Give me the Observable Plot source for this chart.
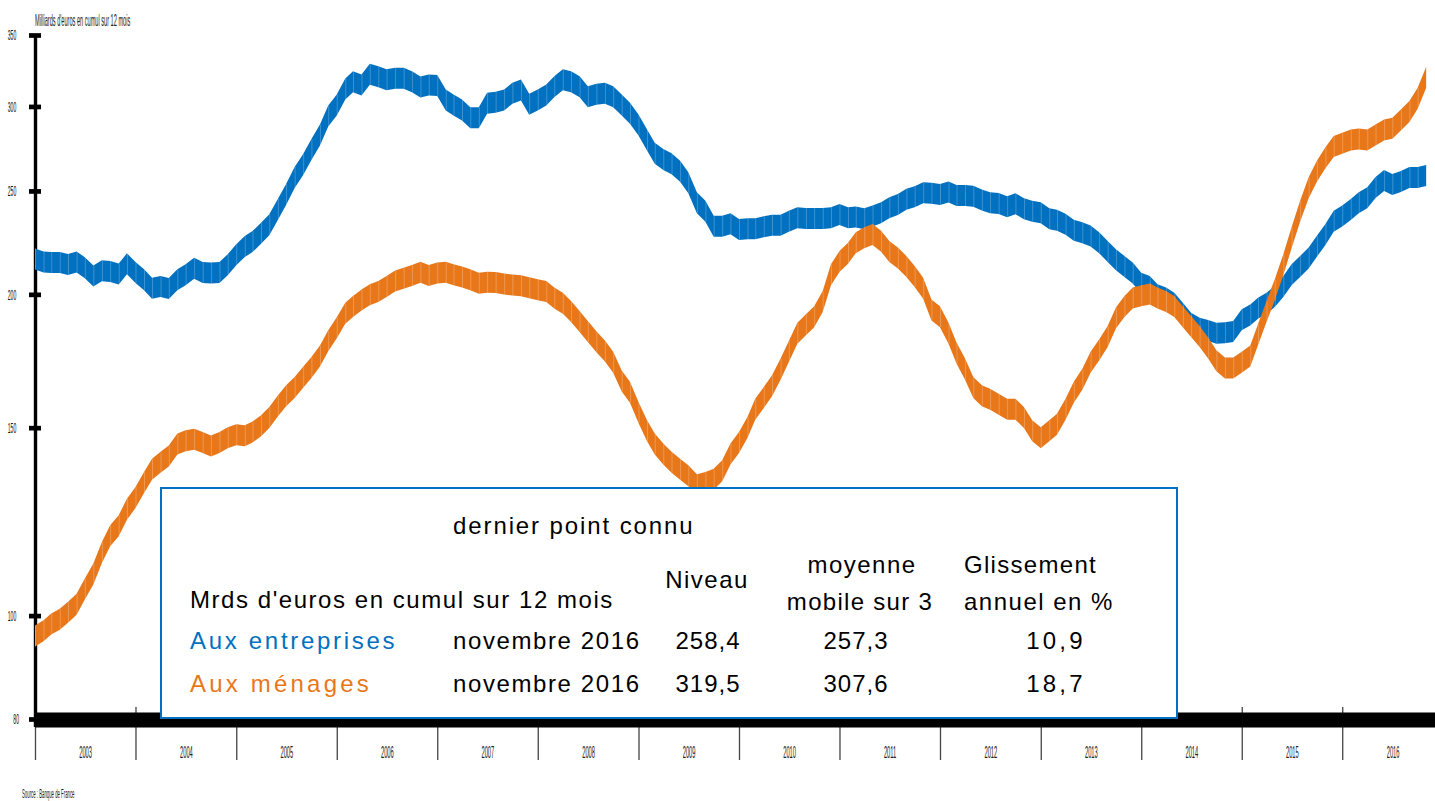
<!DOCTYPE html>
<html>
<head>
<meta charset="utf-8">
<script src="https://cdn.jsdelivr.net/npm/d3@7"></script>
<script src="https://cdn.jsdelivr.net/npm/@observablehq/plot@0.6"></script>
<style>
html, body { margin: 0; padding: 0; background: #fff; }
#wrap { position: relative; width: 1435px; height: 801px; overflow: hidden; font-family: "Liberation Sans", Arial, sans-serif; }
#chart svg { display: block; }
.cond { position: absolute; white-space: nowrap; transform-origin: 0 50%; transform: scaleX(0.33); color: #222; line-height: 1; }
#box { position: absolute; left: 160px; top: 487px; width: 1018px; height: 232px; box-sizing: border-box; border: 2px solid #0070C0; background: #fff; }
.t { position: absolute; white-space: nowrap; font-size: 24px; line-height: 24px; color: #000; }
.c { transform: translateX(-50%); text-align: center; }
</style>
</head>
<body>
<div id="wrap">
  <div id="chart"></div>
</div>
<script>
// ---------- DATA ----------
const startYear = 2003;
const yearLabels = ["2003","2004","2005","2006","2007","2008","2009","2010","2011","2012","2013","2014","2015","2016"];
const yTicks = [80, 100, 150, 200, 250, 300, 350];
const unitTitle = "Milliards d'euros en cumul sur 12 mois";
const sourceText = "Source : Banque de France";

// Crédits aux entreprises (monthly, Jan 2003 – Nov 2016)
const entreprises = [
  215.9, 214.5, 214.2, 214.2, 213.3, 214.5, 211.8, 208.1, 210.5, 210.1, 209.0, 213.6,
  209.6, 206.4, 202.7, 203.4, 202.5, 206.4, 208.6, 211.6, 209.6, 209.4, 209.6, 213.2,
  217.8, 221.7, 224.1, 228.2, 232.4, 240.2, 248.1, 257.4, 264.7, 273.4, 282.1, 293.9,
  301.0, 311.5, 316.5, 314.2, 321.6, 319.9, 317.7, 318.8, 318.8, 316.5, 312.9, 314.2,
  313.8, 304.2, 301.0, 297.7, 292.8, 292.8, 302.1, 302.7, 304.2, 308.7, 310.9, 301.4,
  304.2, 307.5, 313.1, 317.7, 316.5, 313.1, 306.4, 308.0, 308.7, 306.4, 301.0, 295.6,
  288.3, 279.1, 271.2, 267.6, 265.1, 260.9, 254.5, 243.7, 239.3, 231.7, 231.7, 232.9,
  230.1, 230.4, 230.4, 231.4, 232.1, 232.2, 234.2, 236.0, 235.6, 235.6, 235.6, 236.0,
  237.6, 236.0, 236.3, 235.4, 236.8, 238.5, 241.1, 242.8, 245.5, 246.9, 249.0, 248.7,
  248.1, 249.4, 247.6, 247.6, 247.2, 245.1, 243.7, 243.3, 241.6, 243.2, 240.6, 239.3,
  238.5, 235.4, 234.7, 232.6, 229.7, 228.4, 226.8, 223.6, 219.4, 215.5, 212.4, 209.4,
  204.9, 203.4, 199.8, 198.4, 196.2, 192.0, 187.9, 185.9, 185.0, 183.9, 184.1, 184.6,
  189.3, 191.3, 194.1, 196.2, 199.1, 203.4, 208.6, 212.4, 216.3, 221.9, 227.6, 234.2,
  236.8, 240.2, 243.7, 246.4, 251.9, 255.7, 253.5, 255.2, 257.4, 257.4, 258.4
];
// Crédits aux ménages (monthly, Jan 2003 – Nov 2016)
const menages = [
  95.7, 96.8, 98.2, 99.2, 100.7, 102.5, 105.9, 109.4, 114.6, 118.8, 121.4, 125.8,
  129.0, 133.3, 137.1, 139.2, 141.1, 144.8, 145.8, 146.3, 145.3, 144.2, 145.3, 146.8,
  147.7, 147.4, 148.6, 150.6, 153.3, 157.2, 160.7, 163.6, 167.2, 170.8, 175.1, 180.9,
  186.1, 192.0, 194.8, 197.6, 199.8, 201.2, 203.4, 205.9, 207.1, 208.3, 209.8, 208.3,
  209.4, 209.8, 208.6, 207.6, 206.4, 204.9, 205.3, 205.2, 204.5, 204.1, 203.7, 202.9,
  202.0, 201.2, 198.4, 196.2, 192.7, 188.6, 184.6, 180.6, 177.0, 172.7, 165.9, 161.9,
  155.0, 149.0, 144.8, 141.7, 139.2, 137.1, 135.2, 132.6, 133.3, 134.2, 136.7, 141.7,
  145.3, 150.1, 156.1, 160.1, 164.2, 170.2, 176.8, 183.9, 187.3, 190.6, 196.9, 208.6,
  214.7, 218.6, 223.6, 226.0, 227.6, 224.3, 219.4, 216.3, 212.4, 207.8, 202.7, 193.4,
  190.6, 183.9, 176.2, 170.2, 163.6, 160.7, 159.5, 157.8, 156.1, 156.1, 153.3, 149.0,
  146.8, 149.0, 151.1, 156.1, 161.9, 166.5, 172.7, 177.4, 182.6, 190.0, 194.8, 198.4,
  199.4, 200.2, 198.4, 196.9, 194.8, 190.6, 186.6, 182.6, 178.1, 173.3, 170.6, 170.6,
  172.7, 175.1, 183.3, 192.7, 202.0, 213.2, 226.0, 239.3, 251.7, 260.9, 268.6, 275.1,
  277.1, 279.1, 279.7, 279.1, 282.1, 285.2, 286.2, 291.4, 296.7, 305.4, 319.5
];

// Summary table
const tableTitle = "dernier point connu";
const tableUnit = "Mrds d'euros en cumul sur 12 mois";
const tableHead1 = ["Niveau", "moyenne", "Glissement"];
const tableHead2 = ["", "mobile sur 3", "annuel en %"];
const tableSeries = ["Aux entreprises", "Aux ménages"];
const tablePeriod = ["novembre 2016", "novembre 2016"];
const tableLevel = ["258,4", "319,5"];
const tableMA3 = ["257,3", "307,6"];
const tableYoY = ["10,9", "18,7"];

// ---------- STYLE ----------
const BLUE = "#0070C0";
const ORANGE = "#E8771A";
const band = Math.exp(10.5 / 463.4); // half thickness of the ribbon (ratio on log scale)
const squeeze = 0.34;                // horizontal compression of the small axis labels

// ---------- BUILD ----------
const toRows = (vals) => vals.map((v, i) => ({date: new Date(Date.UTC(startYear, i, 1)), v, lo: v / band, hi: v * band}));
const ent = toRows(entreprises);
const men = toRows(menages);
const yearStarts = yearLabels.map(y => new Date(Date.UTC(+y, 0, 1)));
const yearMids = yearLabels.map(y => new Date(Date.UTC(+y, 6, 2)));

const chart = Plot.plot({
  width: 1435,
  height: 801,
  marginLeft: 35,
  marginRight: 0,
  marginTop: 35,
  marginBottom: 82,
  style: {background: "white", fontFamily: "'Liberation Sans', Arial, sans-serif", overflow: "visible"},
  x: {type: "utc", domain: [new Date(Date.UTC(2003, 0, 1)), new Date(Date.UTC(2017, 0, 1))], range: [35, 1443]},
  y: {type: "log", domain: [80, 350], range: [719, 35]},
  marks: [
    // year separators
    Plot.axisX(yearStarts, {tickSize: 53, dy: -12, stroke: "#444", strokeWidth: 1.3, tickFormat: () => "", label: null}),
    // year labels
    Plot.axisX(yearMids, {tickSize: 0, tickPadding: 26, tickFormat: d3.utcFormat("%Y"), fontSize: 17, fill: "#222", label: null}),
    // thick x baseline
    Plot.ruleY([80], {stroke: "black", strokeWidth: 15, dy: 0.5}),
    // y axis line
    Plot.ruleX([new Date(Date.UTC(2003, 0, 1))], {stroke: "black", strokeWidth: 3.4, insetBottom: -8}),
    // y tick marks
    Plot.axisY(yTicks, {tickSize: 12, dx: 6, stroke: "black", strokeWidth: 4.7, tickFormat: () => "", label: null}),
    // y tick labels
    Plot.axisY(yTicks, {tickSize: 0, tickPadding: 11, tickFormat: d => String(d), fontSize: 15, fill: "#111", label: null}),
    // ribbons
    Plot.areaY(ent, {x: "date", y1: "lo", y2: "hi", fill: BLUE}),
    Plot.ruleX(ent, {x: "date", y1: "lo", y2: "hi", stroke: "white", strokeOpacity: 0.3, strokeWidth: 0.8}),
    Plot.areaY(men, {x: "date", y1: "lo", y2: "hi", fill: ORANGE}),
    Plot.ruleX(men, {x: "date", y1: "lo", y2: "hi", stroke: "white", strokeOpacity: 0.3, strokeWidth: 0.8})
  ]
});
document.getElementById("chart").appendChild(chart);

// condensed tick labels: squeeze each label horizontally around its own centre
d3.select(chart).selectAll("g[aria-label$='tick label'] text").each(function() {
  if (!this.textContent) return;
  const bb = this.getBBox();
  const cx = bb.x + bb.width / 2;
  const old = this.getAttribute("transform") || "";
  this.setAttribute("transform", `${old} translate(${cx},0) scale(${squeeze},1) translate(${-cx},0)`);
});

// ---------- HTML overlays ----------
const wrap = document.getElementById("wrap");
function addDiv(cls, text, css) {
  const d = document.createElement("div");
  d.className = cls;
  d.textContent = text;
  Object.assign(d.style, css);
  wrap.appendChild(d);
  return d;
}
addDiv("cond", unitTitle, {left: "35px", top: "12px", fontSize: "17px"});
addDiv("cond", sourceText, {left: "22px", top: "787px", fontSize: "13px"});

const box = document.createElement("div");
box.id = "box";
wrap.appendChild(box);

addDiv("t", tableTitle, {left: "453px", top: "514px", letterSpacing: "1.9px"});
addDiv("t", tableUnit, {left: "190px", top: "588px", letterSpacing: "1.55px"});
const headX = [707, 862, 964];
tableHead1.forEach((h, i) => {
  const top = i === 0 ? 568 : 553;
  if (i === 2) addDiv("t", h, {left: headX[i] + "px", top: top + "px", letterSpacing: "1.3px"});
  else addDiv("t c", h, {left: headX[i] + "px", top: top + "px", letterSpacing: "1.5px"});
});
tableHead2.forEach((h, i) => {
  if (!h) return;
  if (i === 2) addDiv("t", h, {left: headX[i] + "px", top: "590px", letterSpacing: "1.5px"});
  else addDiv("t c", h, {left: (headX[i] - 2) + "px", top: "590px", letterSpacing: "1.3px"});
});
const rowTop = [629, 672];
const rowColor = [BLUE, ORANGE];
const rowSpacing = ["2.7px", "3.2px"];
tableSeries.forEach((s, r) => {
  addDiv("t", s, {left: "190px", top: rowTop[r] + "px", color: rowColor[r], letterSpacing: rowSpacing[r]});
  addDiv("t", tablePeriod[r], {left: "453px", top: rowTop[r] + "px", letterSpacing: "1.6px"});
  addDiv("t c", tableLevel[r], {left: "708px", top: rowTop[r] + "px", letterSpacing: "1px"});
  addDiv("t c", tableMA3[r], {left: "856px", top: rowTop[r] + "px", letterSpacing: "1px"});
  addDiv("t c", tableYoY[r], {left: "1056px", top: rowTop[r] + "px", letterSpacing: "3.2px"});
});
</script>
</body>
</html>
